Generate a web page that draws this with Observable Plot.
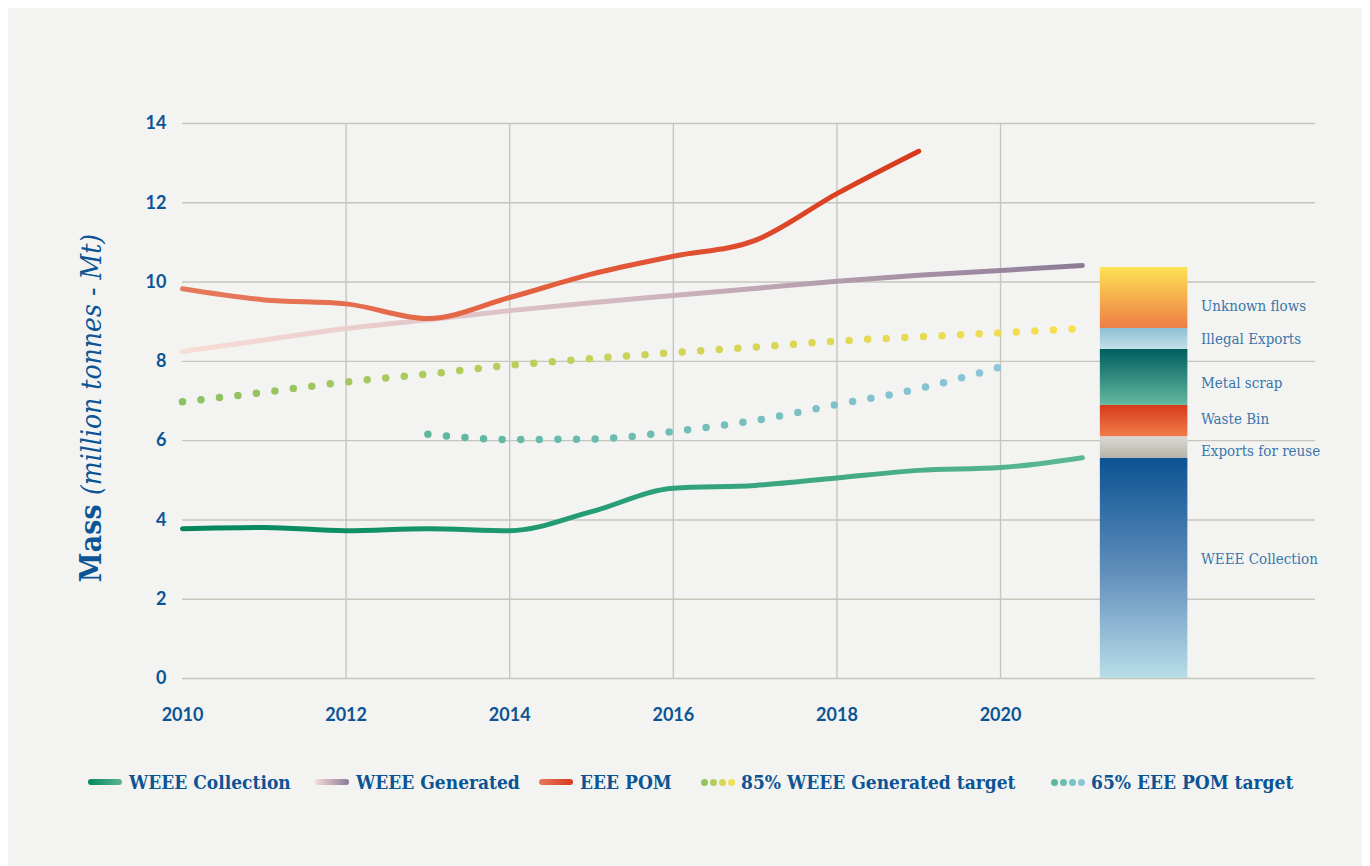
<!DOCTYPE html>
<html>
<head>
<meta charset="utf-8">
<script src="https://cdn.jsdelivr.net/npm/d3@7"></script>
<script src="https://cdn.jsdelivr.net/npm/@observablehq/plot@0.6"></script>
<style>
  html, body { margin: 0; padding: 0; background: #ffffff; }
  #wrap { position: absolute; left: 8px; top: 8px; width: 1354px; height: 858px; background: #f3f4f2; overflow: hidden; }
  #legend { position: relative; height: 80px; }
  .item { position: absolute; top: 22px; height: 24px; display: flex; align-items: center;
          font-family: "DejaVu Serif Condensed", "DejaVu Serif", serif; font-stretch: condensed;
          font-weight: bold; font-size: 19px; color: #0c5494; white-space: nowrap; }
  .sw { width: 34px; height: 6px; border-radius: 3px; margin-right: 7px; }
  .dots { display: flex; gap: 2px; margin-right: 6px; }
  .dots span { width: 7px; height: 7px; border-radius: 50%; display: inline-block; }
</style>
</head>
<body>
<div id="wrap"><div id="chart"></div><div id="legend"></div></div>
<script>
// ---- data ----
const years = [2010, 2011, 2012, 2013, 2014, 2015, 2016, 2017, 2018, 2019, 2020, 2021];
const weeeCollection = [3.78, 3.81, 3.73, 3.78, 3.73, 4.21, 4.80, 4.87, 5.06, 5.25, 5.32, 5.57];
const weeeGenerated = [8.25, 8.54, 8.83, 9.05, 9.28, 9.48, 9.66, 9.84, 10.02, 10.17, 10.29, 10.42];
const pomYears = [2010, 2011, 2012, 2013, 2014, 2015, 2016, 2017, 2018, 2019];
const eeePom = [9.83, 9.55, 9.45, 9.08, 9.61, 10.2, 10.65, 11.05, 12.23, 13.30];
const target85 = [6.98, 7.22, 7.48, 7.68, 7.90, 8.07, 8.22, 8.36, 8.51, 8.62, 8.72, 8.83];
const target65Years = [2013, 2014, 2015, 2016, 2017, 2018, 2019, 2020];
const target65 = [6.16, 6.03, 6.04, 6.23, 6.51, 6.91, 7.31, 7.86];
const flowCategories = ["WEEE Collection", "Exports for reuse", "Waste Bin", "Metal scrap", "Illegal Exports", "Unknown flows"];
const flowValues = [5.55, 0.55, 0.79, 1.41, 0.53, 1.54];
const yTicks = [0, 2, 4, 6, 8, 10, 12, 14];
const xTicks = [2010, 2012, 2014, 2016, 2018, 2020];
const xGrid = [2012, 2014, 2016, 2018, 2020];
const legendLabels = ["WEEE Collection", "WEEE Generated", "EEE POM", "85% WEEE Generated target", "65% EEE POM target"];

// ---- tables ----
const collection = years.map((x, i) => ({x, y: weeeCollection[i]}));
const generated = years.map((x, i) => ({x, y: weeeGenerated[i]}));
const pom = pomYears.map((x, i) => ({x, y: eeePom[i]}));
const t85 = years.map((x, i) => ({x, y: target85[i]}));
const t65 = target65Years.map((x, i) => ({x, y: target65[i]}));
let acc = 0;
const segments = flowCategories.map((name, i) => {
  const y1 = acc; acc += flowValues[i];
  return {name, y1, y2: acc, mid: (y1 + acc) / 2, id: "bar" + i};
});

const blue = "#0c5494";
const barLeft = 2021.22, barRight = 2022.29, labelX = 2022.45;
const labelDy = [-9, 4, -2, 6, 0, 8];

const plot = Plot.plot({
  width: 1354,
  height: 740,
  marginLeft: 174,
  marginRight: 47,
  marginTop: 115,
  marginBottom: 70,
  style: {background: "transparent", fontFamily: "Lato, 'Open Sans', sans-serif", fontSize: "18px", fontWeight: "bold", color: blue},
  x: {domain: [2010, 2023.85]},
  y: {domain: [0, 14]},
  marks: [
    Plot.ruleY(yTicks, {stroke: "#c7c6bd", strokeWidth: 1.4}),
    Plot.ruleX(xGrid, {y1: 0, y2: 14, stroke: "#c7c6bd", strokeWidth: 1.4}),
    Plot.axisY({ticks: yTicks, tickSize: 0, tickPadding: 16, tickFormat: d => d, fill: blue, fontSize: 18, fontWeight: "bold", label: null}),
    Plot.axisX({ticks: xTicks, tickSize: 0, tickPadding: 30, tickFormat: d => String(d), fill: blue, fontSize: 18, fontWeight: "bold", label: null}),
    ...segments.map(s => Plot.rectY([s], {x1: () => barLeft, x2: () => barRight, y1: "y1", y2: "y2", fill: `url(#${s.id})`})),
    ...segments.map((s, i) => Plot.text([s], {x: () => labelX, y: "mid", text: "name", textAnchor: "start", dy: labelDy[i],
      fill: "#3a76aa", fontWeight: "normal", fontSize: 15,
      fontFamily: "'DejaVu Serif Condensed', 'DejaVu Serif', serif"})),
    Plot.line(t85, {x: "x", y: "y", curve: "monotone-x", stroke: "url(#g85)", strokeWidth: 7.5, strokeLinecap: "round", strokeDasharray: "0 18.6"}),
    Plot.line(t65, {x: "x", y: "y", curve: "monotone-x", stroke: "url(#g65)", strokeWidth: 7.5, strokeLinecap: "round", strokeDasharray: "0 18.6"}),
    Plot.line(generated, {x: "x", y: "y", curve: "monotone-x", stroke: "url(#gGen)", strokeWidth: 5, strokeLinecap: "round"}),
    Plot.line(pom, {x: "x", y: "y", curve: "monotone-x", stroke: "url(#gPom)", strokeWidth: 5, strokeLinecap: "round"}),
    Plot.line(collection, {x: "x", y: "y", curve: "monotone-x", stroke: "url(#gCol)", strokeWidth: 5, strokeLinecap: "round"})
  ]
});

// gradients
const svg = d3.select(plot);
const defs = svg.insert("defs", ":first-child");
function grad(id, stops, vertical) {
  const g = defs.append("linearGradient").attr("id", id)
    .attr("x1", 0).attr("y1", 0).attr("x2", vertical ? 0 : 1).attr("y2", vertical ? 1 : 0);
  stops.forEach(([o, c]) => g.append("stop").attr("offset", o).attr("stop-color", c));
}
grad("gCol", [[0, "#00865b"], [0.5, "#2a9f77"], [1, "#5db795"]]);
grad("gGen", [[0, "#fadcd6"], [0.5, "#d1b7bf"], [1, "#8d7b96"]]);
grad("gPom", [[0, "#e57b5c"], [0.5, "#e35f3e"], [1, "#d8391c"]]);
grad("g85", [[0, "#8cc162"], [0.5, "#cbd258"], [1, "#f7e050"]]);
grad("g65", [[0, "#5cb89d"], [1, "#8cc5d9"]]);
grad("bar0", [[0, "#0b5394"], [0.5, "#5d8cb9"], [1, "#b9dde8"]], true);
grad("bar1", [[0, "#dcdad4"], [1, "#b6b4a9"]], true);
grad("bar2", [[0, "#d83a1c"], [1, "#f07c49"]], true);
grad("bar3", [[0, "#005d60"], [1, "#64b99d"]], true);
grad("bar4", [[0, "#8dbfd5"], [1, "#c4e0e9"]], true);
grad("bar5", [[0, "#fde254"], [1, "#ef7d45"]], true);

// y axis title
const t = svg.append("text")
  .attr("transform", "translate(93,400) rotate(-90)")
  .attr("text-anchor", "middle")
  .attr("fill", blue)
  .style("font-family", "'DejaVu Serif Condensed', 'DejaVu Serif', serif")
  .style("font-size", "30px");
t.append("tspan").attr("font-weight", "bold").text("Mass ");
t.append("tspan").attr("font-style", "italic").attr("font-weight", "normal").style("font-size", "28px").text("(million tonnes - Mt)");

document.getElementById("chart").appendChild(plot);

// legend
const legend = document.getElementById("legend");
const lefts = [80, 307, 531, 693, 1043];
const lineSw = [["#00885c", "#5cb794"], ["#f6dbd6", "#8b7a95"], ["#e57a5b", "#d73a1d"]];
const dotSw = [["#93c45e", "#b5cc58", "#d6d657", "#f4e052"], ["#5cb89c", "#6dbdb2", "#7dc2c6", "#8cc6d6"]];
legendLabels.forEach((lab, i) => {
  const it = document.createElement("div");
  it.className = "item";
  it.style.left = lefts[i] + "px";
  if (i < 3) {
    const s = document.createElement("div");
    s.className = "sw";
    s.style.background = `linear-gradient(to right, ${lineSw[i][0]}, ${lineSw[i][1]})`;
    it.appendChild(s);
  } else {
    const d = document.createElement("div");
    d.className = "dots";
    dotSw[i - 3].forEach(c => { const sp = document.createElement("span"); sp.style.background = c; d.appendChild(sp); });
    it.appendChild(d);
  }
  const tx = document.createElement("span");
  tx.textContent = lab;
  it.appendChild(tx);
  legend.appendChild(it);
});
</script>
</body>
</html>
